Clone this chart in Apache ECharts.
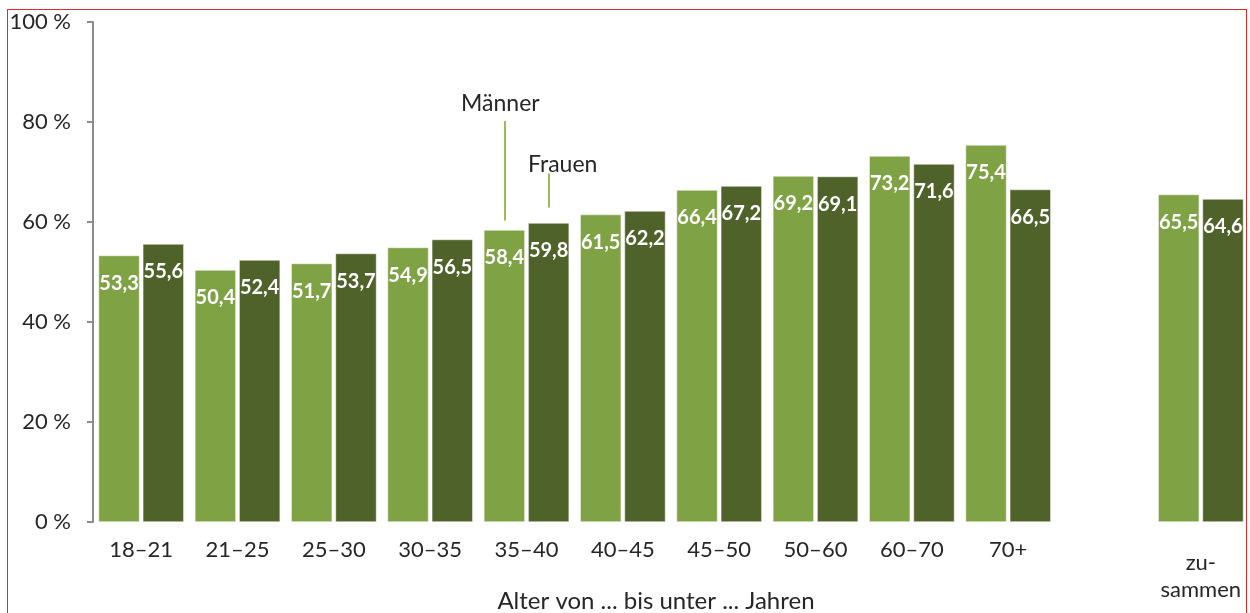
<!DOCTYPE html>
<html>
<head>
<meta charset="utf-8">
<script src="https://cdn.jsdelivr.net/npm/echarts@6/dist/echarts.min.js"></script>
<style>
html,body{margin:0;padding:0;background:#fff;}
#wrap{position:relative;width:1250px;height:613px;overflow:hidden;}
#chart{width:1250px;height:613px;}
#frame{position:absolute;left:7px;top:9px;width:1240px;height:640px;border:1px solid #de2a2a;pointer-events:none;box-sizing:border-box;}
</style>
</head>
<body>
<div id="wrap"><div id="chart"></div><div id="frame"></div></div>
<script>
const categories = ['18–21','21–25','25–30','30–35','35–40','40–45','45–50','50–60','60–70','70+','','zu-\nsammen'];
const maenner = [53.3, 50.4, 51.7, 54.9, 58.4, 61.5, 66.4, 69.2, 73.2, 75.4, '-', 65.5];
const frauen  = [55.6, 52.4, 53.7, 56.5, 59.8, 62.2, 67.2, 69.1, 71.6, 66.5, '-', 64.6];
const yTicks = [0, 20, 40, 60, 80, 100];
const seriesNames = ['Männer', 'Frauen'];
const axisName = 'Alter von ... bis unter ... Jahren';

const FONT = 'Lato';
const fmt = v => String(v).replace('.', ',');

const chart = echarts.init(document.getElementById('chart'), null, {renderer:'canvas'});
const labelCfg = {
  show: true, position: 'insideTop', distance: 18,
  color: '#fff', fontFamily: FONT, fontWeight: 'bold', fontSize: 20,
  formatter: p => fmt(p.value)
};
chart.setOption({
  animation: false,
  textStyle: {fontFamily: FONT},
  grid: {left: 93, right: 1, top: 22, bottom: 91, containLabel: false, outerBoundsMode: 'none'},
  xAxis: {
    type: 'category',
    data: categories.map(c => c.indexOf('\n') >= 0 ? {value: c, textStyle: {lineHeight: 27, padding: [10,0,0,0]}} : c),
    axisLine: {show: false},
    axisTick: {show: false},
    axisLabel: {color: '#262626', fontSize: 22, fontFamily: FONT, margin: 17, interval: 0, lineHeight: 22},
    name: axisName,
    nameLocation: 'middle',
    nameGap: 67,
    nameMoveOverlap: false,
    nameTextStyle: {color: '#262626', fontSize: 24, fontFamily: FONT, padding: [0, 30, 0, 0]}
  },
  yAxis: {
    type: 'value', min: 0, max: 100, interval: 20,
    axisLine: {show: true, lineStyle: {color: '#8c8c8c', width: 2}},
    axisTick: {show: true, length: 6, lineStyle: {color: '#8c8c8c', width: 2}},
    splitLine: {show: false},
    axisLabel: {color: '#262626', fontSize: 22, fontFamily: FONT, margin: 22,
      formatter: v => yTicks.indexOf(v) >= 0 ? v + '\u202f%' : ''}
  },
  series: [
    {
      name: seriesNames[0], type: 'bar', data: maenner,
      barWidth: 41, barGap: '8%',
      itemStyle: {color: '#7fa344', borderColor: '#fff', borderWidth: 0.5},
      label: labelCfg,
      emphasis: {disabled: true},
      markLine: {
        silent: true, symbol: ['none','none'],
        lineStyle: {color: '#9bbb59', width: 2, type: 'solid'},
        label: {show: true, position: 'end', distance: 6, formatter: seriesNames[0], color: '#262626', fontSize: 23, fontFamily: FONT, offset: [-4, 0]},
        data: [[{coord: ['35–40', 60.3]}, {coord: ['35–40', 80.2]}]]
      }
    },
    {
      name: seriesNames[1], type: 'bar', data: frauen,
      barWidth: 41,
      itemStyle: {color: '#4f6229', borderColor: '#fff', borderWidth: 0.5},
      label: labelCfg,
      emphasis: {disabled: true},
      markLine: {
        silent: true, symbol: ['none','none'],
        lineStyle: {color: '#9bbb59', width: 2, type: 'solid'},
        label: {show: true, position: 'end', distance: -3, formatter: seriesNames[1], color: '#262626', fontSize: 23, fontFamily: FONT, offset: [14, 0]},
        data: [[{coord: ['35–40', 62.9]}, {coord: ['35–40', 69.7]}]]
      }
    }
  ]
});
</script>
</body>
</html>
